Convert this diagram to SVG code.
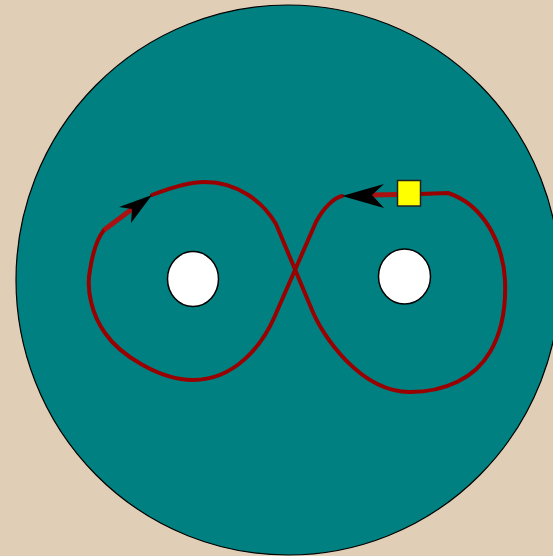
<svg xmlns="http://www.w3.org/2000/svg" width="553" height="556" viewBox="0 0 553 556">
<style>
.hole{fill:#ffffff;stroke:#000;stroke-width:1.5}
.track{fill:none;stroke:#990000;stroke-width:4;stroke-linejoin:round;stroke-linecap:round}
.lead{fill:none;stroke:#aa1111;stroke-width:5}
.head{fill:#000}
</style>
<rect width="553" height="556" fill="#e0cfb6"/>
<g id="disc"><ellipse cx="288" cy="280" rx="272" ry="275" fill="#008080" stroke="#000" stroke-width="1.2"/></g>
<g id="hole-left"><ellipse class="hole" cx="193" cy="279" rx="25.5" ry="27.5"/></g>
<g id="hole-right"><ellipse class="hole" cx="404.5" cy="276.5" rx="26" ry="27.5"/></g>
<g id="connectors">
<path class="track" d="M342,196 C334,198 324,207 316,222 L274,318 C262,345 235,380 193,380 C160,380 120,355 105,333 C92,315 86,290 90,270 C92,257 96,240 104,230"/>
<path class="track" d="M152,195 C175,186 190,182 205,182 C238,182 263,202 276,224 L312,310 C322,335 360,392 410,392 C445,392 475,378 490,352 C502,332 506,305 505,280 C503,245 485,205 448,193 L420,194"/>
<path class="lead" d="M104,230 L132,209"/>
<path class="lead" d="M372,195 L398,194.5"/>
<polygon class="head" points="152,195 119,207 132,209 131,223"/>
<polygon class="head" points="342,196 384,184 372,195 384,208"/>
</g>
<g id="marker"><rect x="397.5" y="180.5" width="23" height="25.5" fill="#ffff00" stroke="#222" stroke-width="1.5"/></g>
</svg>
